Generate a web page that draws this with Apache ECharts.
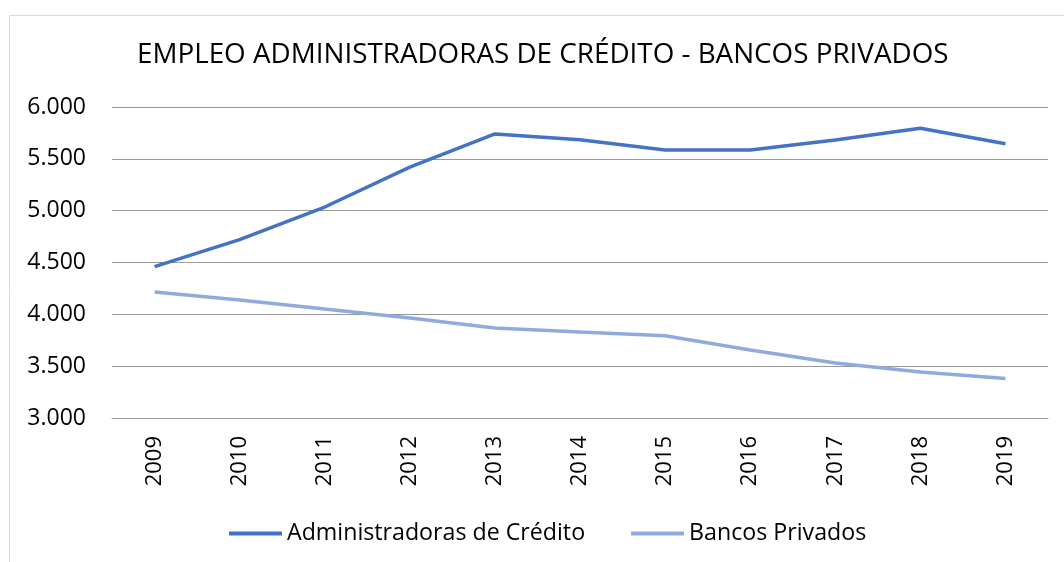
<!DOCTYPE html>
<html><head><meta charset="utf-8">
<script src="https://cdn.jsdelivr.net/npm/echarts@6/dist/echarts.min.js"></script>
<style>html,body{margin:0;padding:0;background:#fff}#c{width:1064px;height:562px}</style>
</head><body><div id="c"></div>
<script>
const years = ['2009','2010','2011','2012','2013','2014','2015','2016','2017','2018','2019'];
const administradoras = [4460, 4720, 5035, 5420, 5740, 5685, 5585, 5585, 5682, 5795, 5645];
const bancos = [4215, 4138, 4051, 3965, 3868, 3830, 3794, 3656, 3531, 3444, 3380];
const seriesNames = ['Administradoras de Crédito', 'Bancos Privados'];
const titleText = 'EMPLEO ADMINISTRADORAS DE CRÉDITO - BANCOS PRIVADOS';

const font = "'Open Sans', 'Liberation Sans', sans-serif";
const chart = echarts.init(document.getElementById('c'), null, {renderer:'canvas'});
chart.setOption({
  animation: false,
  graphic: [{type:'rect', shape:{x:9.5,y:15.5,width:1060,height:560}, style:{fill:'none', stroke:'#d9d9d9', lineWidth:1}, silent:true}],
  title: {text: titleText, left: 132, top: 36, textStyle:{fontFamily:font, fontSize:27.8, fontWeight:'normal', color:'#000'}},
  legend: {top: 517, left: 224, itemWidth: 53, itemHeight: 4, itemGap: 46, icon:'rect',
    textStyle:{fontFamily:font, fontSize:23.2, color:'#000'},
    data: seriesNames},
  grid: {left: 112, right: 16, top: 107, bottom: 144},
  xAxis: {type:'category', data: years, boundaryGap:true,
    axisLine:{show:true, lineStyle:{color:'#999'}}, axisTick:{show:false},
    axisLabel:{rotate:90, fontFamily:font, fontSize:22, color:'#000', margin:18}},
  yAxis: {type:'value', min:3000, max:6000, interval:500,
    axisLine:{show:false}, axisTick:{show:false},
    splitLine:{lineStyle:{color:'#999', width:1}},
    axisLabel:{fontFamily:font, fontSize:23, color:'#000', margin:26,
      formatter: v => (v/1000).toFixed(3)}},
  series: [
    {name: seriesNames[0], type:'line', data: administradoras, symbol:'none', lineStyle:{color:'#4472C4', width:3.5}, itemStyle:{color:'#4472C4'}},
    {name: seriesNames[1], type:'line', data: bancos, symbol:'none', lineStyle:{color:'#8FAADC', width:3.5}, itemStyle:{color:'#8FAADC'}}
  ]
});
</script></body></html>
